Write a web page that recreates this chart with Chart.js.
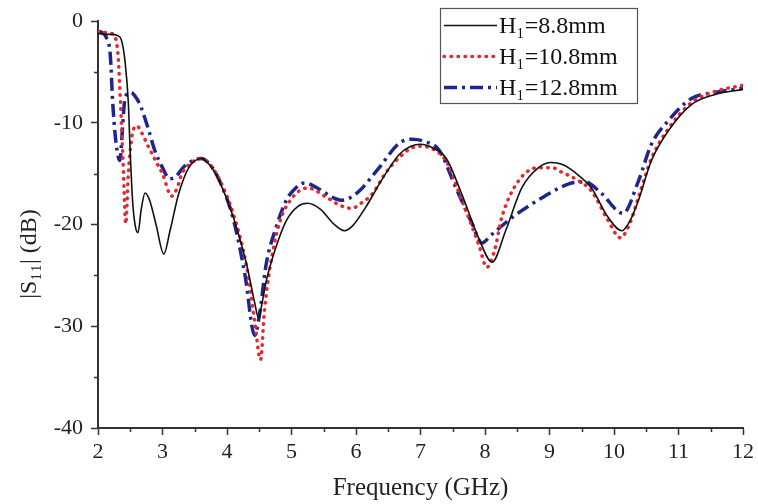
<!DOCTYPE html>
<html>
<head>
<meta charset="utf-8">
<script src="https://cdn.jsdelivr.net/npm/chart.js@4/dist/chart.umd.min.js"></script>
<style>
  html, body { margin: 0; padding: 0; background: #ffffff; }
  #wrap { width: 758px; height: 504px; position: relative; }
</style>
</head>
<body>
<div id="wrap"><canvas id="c" width="758" height="504"></canvas></div>
<script>
// ---- Data ----
const seriesLabels = ["H\u2081=8.8mm", "H\u2081=10.8mm", "H\u2081=12.8mm"];

const freqH88 = [2.0, 2.1, 2.2, 2.3, 2.36, 2.42, 2.47, 2.5, 2.54, 2.58, 2.62, 2.67, 2.73, 2.8, 2.9, 3.02, 3.12, 3.25, 3.4, 3.6, 3.75, 3.9, 4.1, 4.3, 4.43, 4.49, 4.55, 4.61, 4.76, 4.92, 5.1, 5.25, 5.45, 5.65, 5.82, 5.95, 6.15, 6.4, 6.67, 6.85, 7.0, 7.2, 7.4, 7.64, 7.9, 8.11, 8.32, 8.57, 8.83, 9.03, 9.2, 9.4, 9.65, 9.91, 10.12, 10.25, 10.38, 10.58, 10.84, 11.2, 11.57, 12.0];
const dbH88   = [-1.2, -1.3, -1.3, -1.4, -1.8, -4.0, -8.0, -13.0, -18.0, -20.2, -20.8, -18.5, -16.9, -17.6, -20.0, -22.9, -20.5, -17.0, -14.5, -13.5, -14.3, -16.0, -19.3, -23.8, -27.7, -29.2, -27.5, -25.5, -22.2, -19.6, -18.2, -17.9, -18.5, -19.9, -20.6, -20.1, -18.3, -15.6, -13.1, -12.3, -12.1, -12.5, -13.5, -17.0, -21.3, -23.7, -20.6, -16.4, -14.4, -13.9, -14.1, -14.9, -16.4, -19.3, -20.6, -19.6, -17.6, -13.7, -10.8, -8.2, -7.2, -6.7];

const freqH108 = [2.0, 2.1, 2.2, 2.26, 2.31, 2.35, 2.39, 2.43, 2.47, 2.53, 2.6, 2.68, 2.77, 2.9, 3.0, 3.14, 3.22, 3.3, 3.45, 3.6, 3.75, 3.9, 4.1, 4.3, 4.43, 4.52, 4.58, 4.66, 4.81, 5.02, 5.25, 5.54, 5.75, 5.93, 6.1, 6.25, 6.45, 6.67, 6.85, 7.0, 7.2, 7.4, 7.64, 7.9, 8.03, 8.15, 8.26, 8.52, 8.83, 9.05, 9.14, 9.4, 9.65, 9.9, 10.1, 10.25, 10.38, 10.58, 10.84, 11.2, 11.57, 12.0];
const dbH108   = [-1.0, -1.1, -1.2, -1.5, -3.3, -8.2, -14.0, -19.9, -15.0, -11.2, -10.3, -11.0, -12.2, -13.8, -15.0, -17.2, -16.5, -15.0, -13.9, -13.5, -14.2, -15.8, -19.0, -24.0, -29.5, -33.3, -28.5, -24.5, -19.9, -17.3, -16.4, -17.3, -18.1, -18.4, -17.8, -17.0, -15.0, -13.4, -12.5, -12.3, -12.6, -13.8, -17.6, -21.9, -24.2, -22.5, -19.3, -15.7, -14.4, -14.4, -14.7, -15.5, -16.7, -19.5, -21.3, -19.8, -17.3, -13.5, -10.6, -8.0, -6.9, -6.3];

const freqH128 = [2.0, 2.06, 2.12, 2.19, 2.23, 2.28, 2.34, 2.38, 2.42, 2.51, 2.6, 2.67, 2.78, 2.88, 3.0, 3.11, 3.2, 3.35, 3.6, 3.75, 3.9, 4.1, 4.28, 4.43, 4.5, 4.61, 4.76, 4.92, 5.05, 5.2, 5.4, 5.63, 5.77, 5.9, 6.05, 6.36, 6.67, 6.87, 7.05, 7.29, 7.55, 7.8, 7.95, 8.1, 8.42, 8.9, 9.3, 9.55, 9.8, 10.14, 10.38, 10.58, 10.84, 11.2, 11.57, 12.0];
const dbH128   = [-1.0, -1.1, -1.5, -3.3, -8.2, -12.0, -13.7, -10.5, -7.5, -7.0, -7.6, -8.5, -10.6, -12.7, -14.4, -15.5, -15.3, -14.2, -13.5, -14.2, -15.9, -19.5, -25.0, -30.9, -29.0, -23.8, -20.3, -17.6, -16.5, -15.9, -16.4, -17.3, -17.6, -17.4, -16.7, -14.4, -12.0, -11.6, -11.8, -12.7, -16.4, -19.9, -21.8, -21.0, -19.3, -17.3, -16.0, -15.8, -16.9, -18.9, -15.7, -12.1, -9.8, -7.6, -7.0, -6.6];

const xTicks = [2, 3, 4, 5, 6, 7, 8, 9, 10, 11, 12];
const yTicks = [0, -10, -20, -30, -40];
const xTitle = "Frequency (GHz)";
const yTitle = "|S\u2081\u2081| (dB)";

function pts(fs, ds) { return fs.map((f, i) => ({ x: f, y: ds[i] })); }

const FONT = "'Liberation Serif', 'Times New Roman', serif";
const AXIS = '#333333';

// minor ticks, y-axis title, boxed legend
const decor = {
  id: 'decor',
  afterDraw(chart) {
    const ctx = chart.ctx;
    const xs = chart.scales.x, ys = chart.scales.y;
    ctx.save();
    ctx.strokeStyle = AXIS;
    ctx.lineWidth = 1.5;
    for (let v = 2.5; v < 12; v += 1) {
      const px = Math.round(xs.getPixelForValue(v)) + 0.5;
      ctx.beginPath(); ctx.moveTo(px, ys.bottom); ctx.lineTo(px, ys.bottom + 4); ctx.stroke();
    }
    for (let v = -35; v < 0; v += 10) {
      const py = Math.round(ys.getPixelForValue(v)) + 0.5;
      ctx.beginPath(); ctx.moveTo(xs.left, py); ctx.lineTo(xs.left - 4, py); ctx.stroke();
    }
    // y-axis title (sits below centre in the reference)
    ctx.save();
    ctx.translate(30, 254);
    ctx.rotate(-Math.PI / 2);
    ctx.fillStyle = '#222222';
    ctx.font = "24px " + FONT;
    ctx.textAlign = 'center';
    ctx.textBaseline = 'middle';
    ctx.fillText(yTitle, 0, 0);
    ctx.restore();
    // legend
    const bx = 440, by = 8, bw = 197, bh = 95;
    ctx.fillStyle = '#ffffff';
    ctx.fillRect(bx, by, bw, bh);
    ctx.strokeStyle = '#555555';
    ctx.lineWidth = 1.2;
    ctx.strokeRect(bx + 0.5, by + 0.5, bw, bh);
    const rows = [25, 56, 87];
    chart.data.datasets.forEach((ds, i) => {
      const y = by + rows[i] - 8 + 0.5;
      ctx.save();
      ctx.strokeStyle = ds.borderColor;
      ctx.lineWidth = ds.borderWidth;
      ctx.setLineDash(ds.borderDash || []);
      ctx.lineCap = ds.borderCapStyle || 'butt';
      ctx.beginPath(); ctx.moveTo(bx + 4, y); ctx.lineTo(bx + 57, y); ctx.stroke();
      ctx.restore();
      ctx.fillStyle = '#111111';
      ctx.font = "24px " + FONT;
      ctx.textBaseline = 'middle';
      ctx.textAlign = 'left';
      ctx.fillText(ds.label, bx + 59, y + 1);
    });
    ctx.restore();
  }
};

new Chart(document.getElementById('c'), {
  type: 'line',
  data: {
    datasets: [
      { label: seriesLabels[0], data: pts(freqH88, dbH88), borderColor: '#111111', borderWidth: 1.6,
        pointRadius: 0, cubicInterpolationMode: 'monotone', fill: false },
      { label: seriesLabels[1], data: pts(freqH108, dbH108), borderColor: '#e8262b', borderWidth: 3.5,
        borderDash: [0.5, 6.5], borderCapStyle: 'round',
        pointRadius: 0, cubicInterpolationMode: 'monotone', fill: false },
      { label: seriesLabels[2], data: pts(freqH128, dbH128), borderColor: '#1f2590', borderWidth: 3.5,
        borderDash: [13, 5, 3, 5],
        pointRadius: 0, cubicInterpolationMode: 'monotone', fill: false }
    ]
  },
  options: {
    responsive: false,
    animation: false,
    devicePixelRatio: 1,
    layout: { padding: { top: 20, right: 13, left: 0, bottom: 0 } },
    plugins: { legend: { display: false }, tooltip: { enabled: false } },
    scales: {
      x: {
        type: 'linear', min: 2, max: 12,
        afterBuildTicks: (s) => { s.ticks = xTicks.map(v => ({ value: v })); },
        afterFit: (s) => { s.height = 76; },
        border: { color: AXIS, width: 2 },
        grid: { drawOnChartArea: false, drawTicks: true, tickLength: 7, tickColor: AXIS, tickWidth: 1.5 },
        ticks: { color: '#222', font: { family: FONT, size: 22 }, padding: 4, maxRotation: 0 },
        title: { display: true, text: xTitle, color: '#222', font: { family: FONT, size: 25 }, padding: { top: 0, bottom: 1 } }
      },
      y: {
        type: 'linear', min: -40, max: 0,
        afterBuildTicks: (s) => { s.ticks = yTicks.map(v => ({ value: v })); },
        afterFit: (s) => { s.width = 98; },
        border: { color: AXIS, width: 2 },
        grid: { drawOnChartArea: false, drawTicks: true, tickLength: 7, tickColor: AXIS, tickWidth: 1.5 },
        ticks: { color: '#222', font: { family: FONT, size: 22 }, padding: 8 },
        title: { display: false }
      }
    }
  },
  plugins: [decor]
});
</script>
</body>
</html>
